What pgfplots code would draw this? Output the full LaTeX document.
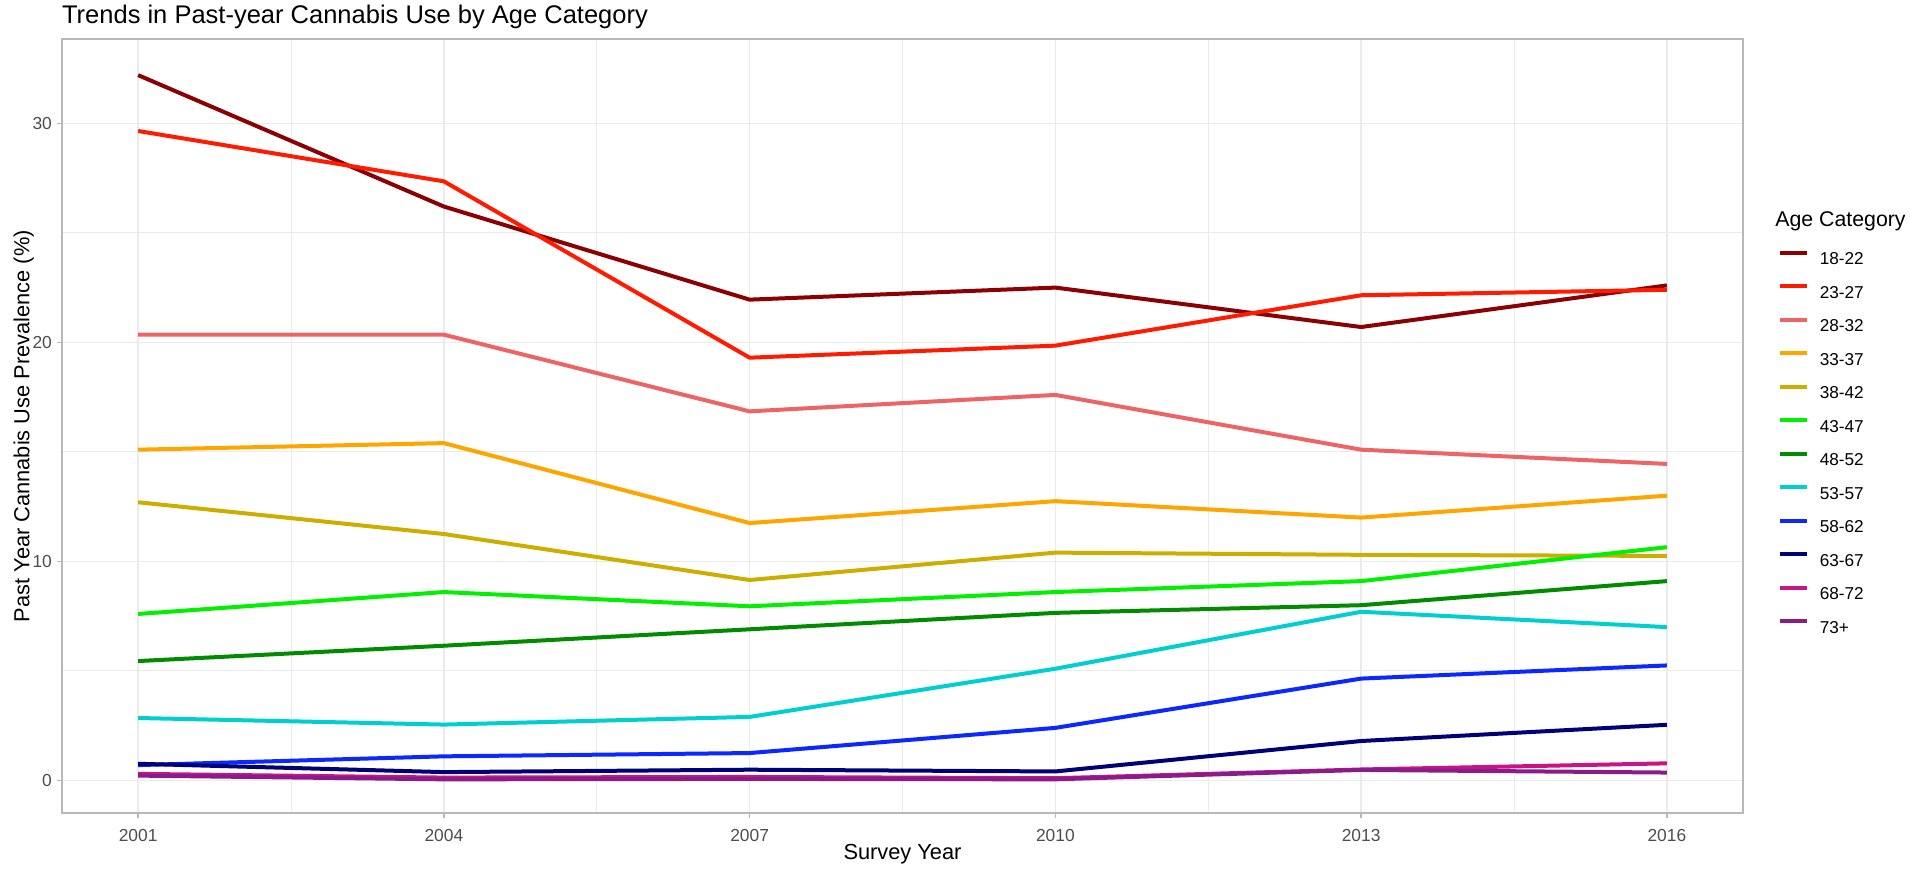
\documentclass[border=0pt]{standalone}
\usepackage{fontspec}
\setmainfont{Liberation Sans}
\usepackage{pgfplots}
\pgfplotsset{compat=1.18}
\definecolor{cA}{HTML}{8B0000}
\definecolor{cB}{HTML}{FF1A00}
\definecolor{cC}{HTML}{EE6363}
\definecolor{cD}{HTML}{FFA500}
\definecolor{cE}{HTML}{CDAD00}
\definecolor{cF}{HTML}{00F000}
\definecolor{cG}{HTML}{008B00}
\definecolor{cH}{HTML}{00CED1}
\definecolor{cI}{HTML}{0A28FF}
\definecolor{cJ}{HTML}{000078}
\definecolor{cK}{HTML}{C71585}
\definecolor{cL}{HTML}{8B1A8B}
\definecolor{gridc}{HTML}{EBEBEB}
\definecolor{borderc}{HTML}{B8B8B8}
\definecolor{tickc}{HTML}{4D4D4D}
\begin{document}
\begin{tikzpicture}
\path[use as bounding box] (0,0) rectangle (955pt,435pt);
\begin{axis}[
  at={(30.85pt,28.35pt)}, anchor=south west,
  width=840.8pt, height=387.15pt, scale only axis,
  xmin=2000.25, xmax=2016.75, ymin=-1.5, ymax=33.85,
  xtick={2001,2004,2007,2010,2013,2016},
  xticklabels={2001,2004,2007,2010,2013,2016},
  ytick={0,10,20,30},
  minor xtick={2002.5,2005.5,2008.5,2011.5,2014.5},
  minor ytick={5,15,25},
  grid=both,
  major grid style={gridc, line width=0.8pt},
  minor grid style={gridc, line width=0.45pt},
  axis line style={borderc, line width=1pt},
  tick style={borderc, line width=0.7pt},
  tick align=outside, major tick length=2.5pt, minor tick length=0pt,
  tick pos=left,
  /pgf/number format/assume math mode=true,
  xticklabel style={font=\fontsize{8.7pt}{10pt}\selectfont, text=tickc, inner sep=0pt, yshift=-5.3pt},
  yticklabel style={font=\fontsize{8.7pt}{10pt}\selectfont, text=tickc, inner sep=0pt, xshift=-2.2pt},
  legend style={at={(rel axis cs:1.0206,0.7263)}, anchor=north west, draw=none, fill=none,
    inner sep=0pt, outer sep=0pt, font=\fontsize{8.6pt}{10pt}\selectfont,
    row sep=8.9pt, column sep=5.4pt,
    nodes={inner sep=0pt, text height=6.5pt, text depth=1pt}},
  legend cell align=left,
  legend image code/.code={\draw[#1, line width=2pt] (0pt,3.1pt) -- (13.5pt,3.1pt);},
  every axis plot/.append style={line width=2pt, line join=round, mark=none},
]
\addplot[cA] coordinates {(2001,32.2) (2004,26.2) (2007,21.95) (2010,22.5) (2013,20.7) (2016,22.6)};
\addlegendentry{18-22}
\addplot[cB] coordinates {(2001,29.65) (2004,27.35) (2007,19.3) (2010,19.85) (2013,22.15) (2016,22.4)};
\addlegendentry{23-27}
\addplot[cC] coordinates {(2001,20.35) (2004,20.35) (2007,16.85) (2010,17.6) (2013,15.1) (2016,14.45)};
\addlegendentry{28-32}
\addplot[cD] coordinates {(2001,15.1) (2004,15.4) (2007,11.75) (2010,12.75) (2013,12.0) (2016,13.0)};
\addlegendentry{33-37}
\addplot[cE] coordinates {(2001,12.7) (2004,11.25) (2007,9.15) (2010,10.4) (2013,10.3) (2016,10.25)};
\addlegendentry{38-42}
\addplot[cF] coordinates {(2001,7.6) (2004,8.6) (2007,7.95) (2010,8.6) (2013,9.1) (2016,10.65)};
\addlegendentry{43-47}
\addplot[cG] coordinates {(2001,5.45) (2004,6.15) (2007,6.9) (2010,7.65) (2013,8.0) (2016,9.1)};
\addlegendentry{48-52}
\addplot[cH] coordinates {(2001,2.85) (2004,2.55) (2007,2.9) (2010,5.1) (2013,7.7) (2016,7.0)};
\addlegendentry{53-57}
\addplot[cI] coordinates {(2001,0.7) (2004,1.1) (2007,1.25) (2010,2.4) (2013,4.65) (2016,5.25)};
\addlegendentry{58-62}
\addplot[cJ] coordinates {(2001,0.76) (2004,0.38) (2007,0.49) (2010,0.41) (2013,1.8) (2016,2.54)};
\addlegendentry{63-67}
\addplot[cK] coordinates {(2001,0.3) (2004,0.13) (2007,0.16) (2010,0.1) (2013,0.5) (2016,0.78)};
\addlegendentry{68-72}
\addplot[cL] coordinates {(2001,0.22) (2004,0.05) (2007,0.07) (2010,0.05) (2013,0.48) (2016,0.36)};
\addlegendentry{73+}
\end{axis}
\node[anchor=base west, inner sep=0pt, font=\fontsize{12.75pt}{15pt}\selectfont] at (30.85pt,423.35pt) {Trends in Past-year Cannabis Use by Age Category};
\node[anchor=base, inner sep=0pt, font=\fontsize{10.9pt}{13pt}\selectfont] at (451.25pt,5.35pt) {Survey Year};
\node[anchor=base, rotate=90, inner sep=0pt, font=\fontsize{10.9pt}{13pt}\selectfont] at (14.65pt,221.9pt) {Past Year Cannabis Use Prevalence (\%)};
\node[anchor=base west, inner sep=0pt, font=\fontsize{10.65pt}{13pt}\selectfont] at (887.5pt,321.5pt) {Age Category};
\end{tikzpicture}
\end{document}
